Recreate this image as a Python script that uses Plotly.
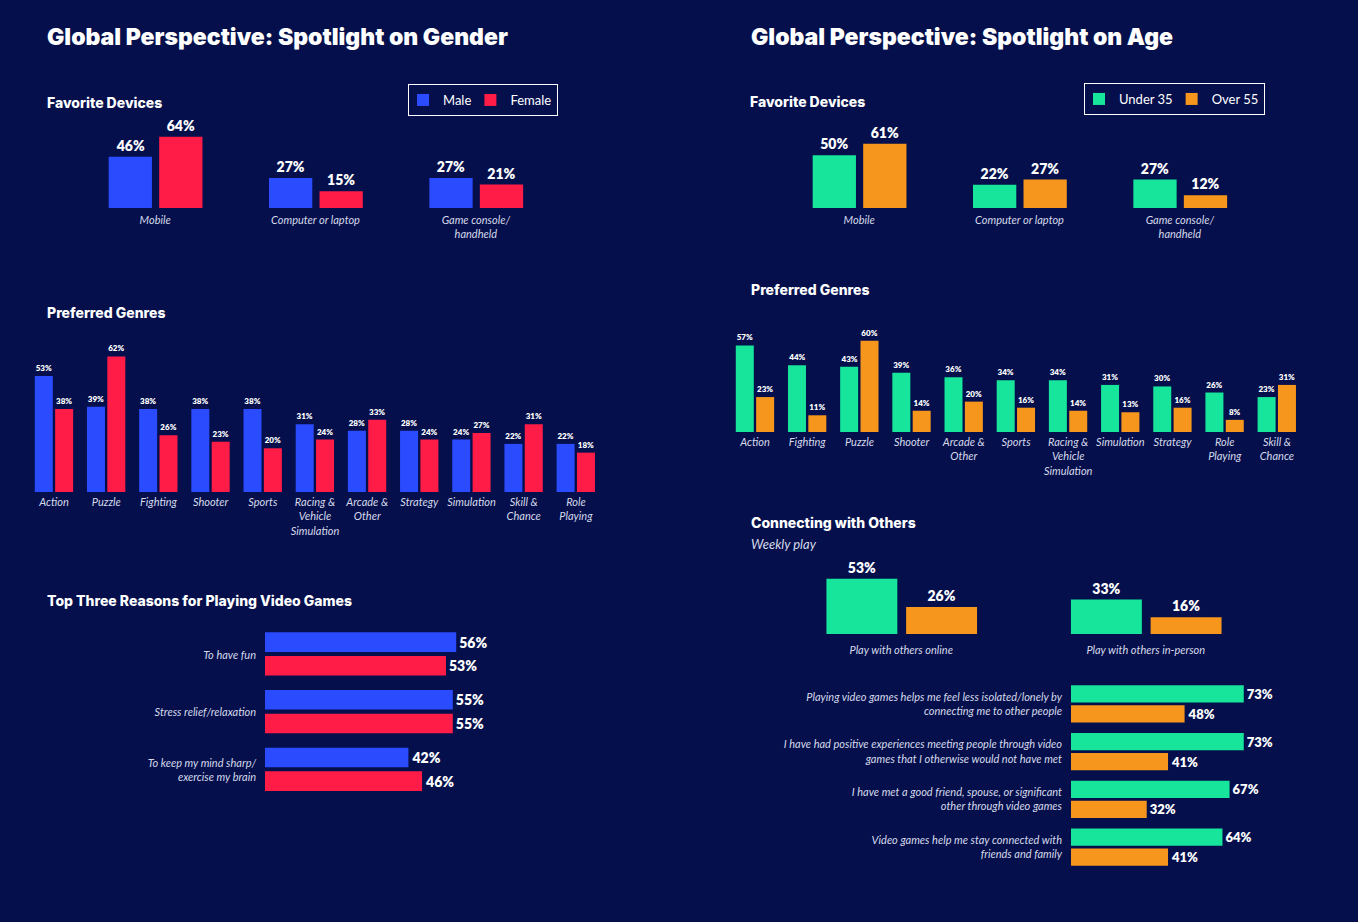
import plotly.graph_objects as go

W, H = 1358, 922
BG = "#040f4b"
BLUE, RED, GREEN, ORANGE = "#2b4bff", "#ff1d48", "#17e59b", "#f7961c"
LBL = "#d6d9ea"
FONT = "Lato"
HFONT = "Inter"

# ---------- data ----------
dev_cats = ["Mobile", "Computer or laptop", "Game console/<br>handheld"]
dev_male = [46, 27, 27]
dev_female = [64, 15, 21]
dev_under35 = [50, 22, 27]
dev_over55 = [61, 27, 12]

g_genres = ["Action", "Puzzle", "Fighting", "Shooter", "Sports", "Racing &<br>Vehicle<br>Simulation",
            "Arcade &<br>Other", "Strategy", "Simulation", "Skill &<br>Chance", "Role<br>Playing"]
g_male = [53, 39, 38, 38, 38, 31, 28, 28, 24, 22, 22]
g_female = [38, 62, 26, 23, 20, 24, 33, 24, 27, 31, 18]

a_genres = ["Action", "Fighting", "Puzzle", "Shooter", "Arcade &<br>Other", "Sports",
            "Racing &<br>Vehicle<br>Simulation", "Simulation", "Strategy", "Role<br>Playing", "Skill &<br>Chance"]
a_under = [57, 44, 43, 39, 36, 34, 34, 31, 30, 26, 23]
a_over = [23, 11, 60, 14, 20, 16, 14, 13, 16, 8, 31]

reasons = ["To have fun", "Stress relief/relaxation", "To keep my mind sharp/<br>exercise my brain"]
r_male = [56, 55, 42]
r_female = [53, 55, 46]

weekly = ["Play with others online", "Play with others in-person"]
w_under = [53, 33]
w_over = [26, 16]

stmts = ["Playing video games helps me feel less isolated/lonely by<br>connecting me to other people",
         "I have had positive experiences meeting people through video<br>games that I otherwise would not have met",
         "I have met a good friend, spouse, or significant<br>other through video games",
         "Video games help me stay connected with<br>friends and family"]
s_under = [73, 73, 67, 64]
s_over = [48, 41, 32, 41]

fig = go.Figure()
layout = {}

def px(x): return x / W
def py(y): return 1 - y / H

def add_axes(n, xd, yd, xr, yr, xticks=None, yticks=None, xlab=None, ylab=None, xstand=2):
    xa = dict(domain=[px(xd[0]), px(xd[1])], range=xr, showgrid=False, zeroline=False,
              showline=False, anchor="y%d" % n, fixedrange=True)
    ya = dict(domain=[py(yd[1]), py(yd[0])], range=yr, showgrid=False, zeroline=False,
              showline=False, anchor="x%d" % n, fixedrange=True)
    tf = dict(family=FONT, size=11, color=LBL, style="italic")
    if xticks is not None:
        xa.update(tickmode="array", tickvals=xticks, ticktext=xlab, tickfont=tf, ticks="",
                  ticklabelstandoff=xstand)
    else:
        xa.update(showticklabels=False)
    if yticks is not None:
        ya.update(tickmode="array", tickvals=yticks, ticktext=ylab, tickfont=tf, ticks="",
                  ticklabelstandoff=8)
    else:
        ya.update(showticklabels=False)
    layout["xaxis%d" % n] = xa
    layout["yaxis%d" % n] = ya

def vbar(n, vals, color, width, offset, name, legend, show, tsize):
    fig.add_trace(go.Bar(x=list(range(len(vals))), y=vals, width=width, offset=offset,
                         marker=dict(color=color, line=dict(width=0)), name=name,
                         texttemplate="%{y}%", textposition="outside", cliponaxis=False,
                         textfont=dict(family=FONT, size=tsize, color="white", weight=800),
                         xaxis="x%d" % n, yaxis="y%d" % n, legend=legend, showlegend=show,
                         hoverinfo="skip"))

def hbar(n, vals, color, width, offset, tsize):
    fig.add_trace(go.Bar(y=list(range(len(vals))), x=vals, orientation="h", width=width, offset=offset,
                         marker=dict(color=color, line=dict(width=0)),
                         texttemplate="%{x}%", textposition="outside", cliponaxis=False,
                         textfont=dict(family=FONT, size=tsize, color="white", weight=800),
                         xaxis="x%d" % n, yaxis="y%d" % n, showlegend=False, hoverinfo="skip"))

# 1 gender devices
add_axes(1, (75, 556), (110, 208), [-0.5, 2.5], [0, 88], [0, 1, 2], None, dev_cats, xstand=4)
vbar(1, dev_male, BLUE, 0.27, -0.29, "Male", "legend", True, 14)
vbar(1, dev_female, RED, 0.27, 0.025, "Female", "legend", True, 14)

# 2 gender genres
add_axes(2, (28, 602), (328, 492), [-0.5, 10.5], [0, 75], list(range(11)), None, g_genres)
vbar(2, g_male, BLUE, 0.345, -0.37, "Male", "legend", False, 8)
vbar(2, g_female, RED, 0.345, 0.02, "Female", "legend", False, 8)

# 3 reasons
add_axes(3, (265, 504), (626, 799), [0, 70], [2.5, -0.5], None, [0, 1, 2], None, reasons)
hbar(3, r_male, BLUE, 0.34, -0.39, 14)
hbar(3, r_female, RED, 0.34, 0.02, 14)

# 4 age devices
add_axes(4, (779, 1260), (110, 208), [-0.5, 2.5], [0, 93], [0, 1, 2], None, dev_cats, xstand=4)
vbar(4, dev_under35, GREEN, 0.27, -0.29, "Under 35", "legend2", True, 14)
vbar(4, dev_over55, ORANGE, 0.27, 0.025, "Over 55", "legend2", True, 14)

# 5 age genres
add_axes(5, (729, 1303), (312, 432), [-0.5, 10.5], [0, 79], list(range(11)), None, a_genres)
vbar(5, a_under, GREEN, 0.345, -0.37, "Under 35", "legend2", False, 8)
vbar(5, a_over, ORANGE, 0.345, 0.02, "Over 55", "legend2", False, 8)

# 6 weekly play
add_axes(6, (779, 1268), (560, 634), [-0.5, 1.5], [0, 71], [0, 1], None, weekly, xstand=8)
vbar(6, w_under, GREEN, 0.29, -0.306, "Under 35", "legend2", False, 14)
vbar(6, w_over, ORANGE, 0.29, 0.02, "Over 55", "legend2", False, 14)

# 7 statements
add_axes(7, (1071, 1284), (680, 871), [0, 90], [3.5, -0.5], None, [0, 1, 2, 3], None, stmts)
hbar(7, s_under, GREEN, 0.36, -0.39, 13)
hbar(7, s_over, ORANGE, 0.36, 0.03, 13)

anns = []
def txt(x, y, t, size, weight=800, style="normal", color="white", family=HFONT):
    anns.append(dict(x=px(x), y=py(y), xref="paper", yref="paper", text=t, showarrow=False,
                     xanchor="left", yanchor="middle",
                     font=dict(family=family, size=size, color=color, weight=weight, style=style)))

txt(45, 37, "Global Perspective: Spotlight on Gender", 23, 900)
txt(749, 37, "Global Perspective: Spotlight on Age", 23, 900)
txt(45, 102, "Favorite Devices", 14)
txt(45, 312, "Preferred Genres", 14)
txt(45, 600, "Top Three Reasons for Playing Video Games", 14)
txt(748, 101, "Favorite Devices", 14)
txt(749, 289, "Preferred Genres", 14)
txt(749, 522, "Connecting with Others", 14)
txt(749, 544, "Weekly play", 13, 400, "italic", LBL, FONT)

leg = dict(orientation="h", bgcolor="rgba(0,0,0,0)", bordercolor="white", borderwidth=1,
           font=dict(family=FONT, size=13, color="white"), xanchor="left", yanchor="top",
           itemwidth=30, traceorder="normal", tracegroupgap=0, indentation=-6)
layout.update(
    width=W, height=H, paper_bgcolor=BG, plot_bgcolor=BG,
    margin=dict(l=0, r=0, t=0, b=0), annotations=anns, barmode="overlay",
    legend=dict(leg, x=px(408), y=py(84)),
    legend2=dict(leg, x=px(1084), y=py(83)),
    font=dict(family=FONT, color="white"),
)
fig.update_layout(**layout)
fig.write_html("out.html", config={"displayModeBar": False},
               post_script="document.body.style.margin='0';document.body.style.background='%s';" % BG)
